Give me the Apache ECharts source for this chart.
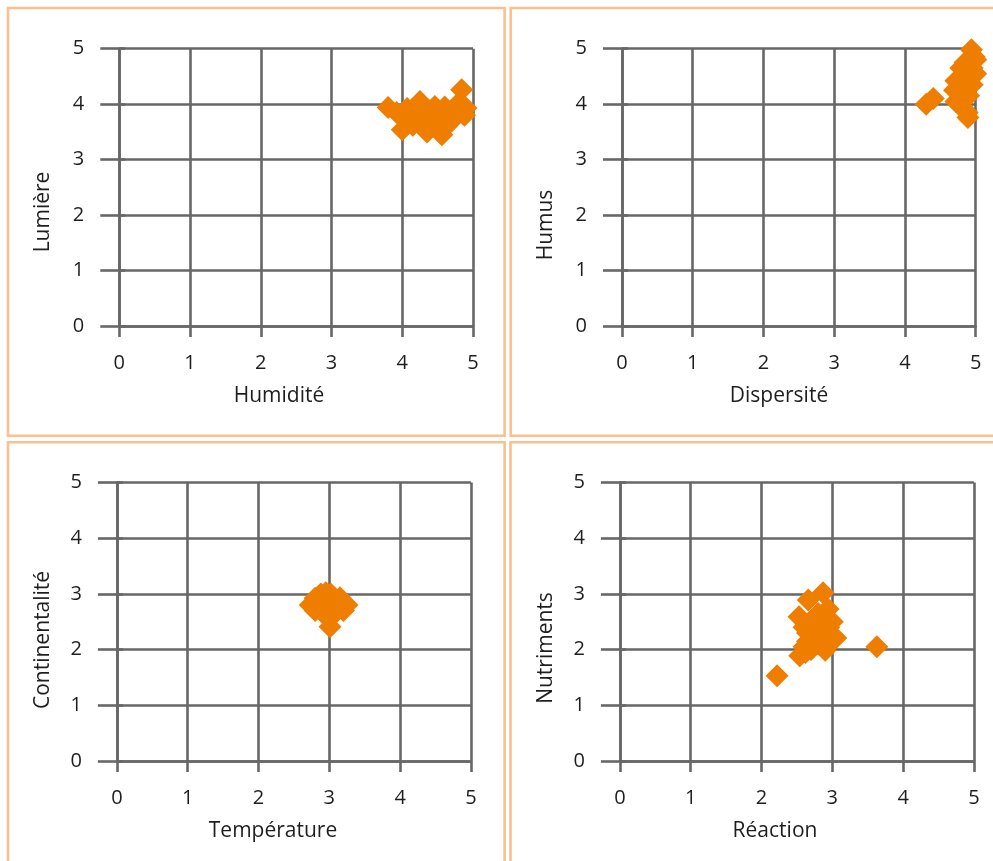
<!DOCTYPE html>
<html>
<head>
<meta charset="utf-8">
<script src="https://cdn.jsdelivr.net/npm/echarts@6/dist/echarts.min.js"></script>
<style>
  html, body { margin: 0; padding: 0; background: #fff; }
  #chart { width: 993px; height: 861px; }
</style>
</head>
<body>
<div id="chart"></div>
<script>
// Ecological indicator values of the sampled species, one panel per pair of indicators.
const ticks = [0, 1, 2, 3, 4, 5];

// Panel 1: Humidité / Lumière
const humidite = [3.80, 3.92, 4.00, 4.07, 4.12, 4.20, 4.25, 4.30, 4.35, 4.40, 4.46, 4.50, 4.55, 4.56, 4.62, 4.68, 4.72, 4.78, 4.84, 4.88, 4.90, 4.15, 4.30, 4.60, 4.10, 4.70, 4.45, 4.02];
const lumiere  = [3.94, 3.85, 3.54, 3.92, 3.70, 3.80, 4.05, 3.68, 3.50, 3.78, 3.96, 3.85, 3.70, 3.45, 3.60, 3.85, 3.75, 4.00, 4.26, 3.80, 3.93, 3.62, 3.85, 3.95, 3.80, 3.70, 3.60, 3.75];

// Panel 2: Dispersité / Humus
const dispersite = [4.94, 4.98, 4.85, 4.79, 4.95, 5.00, 4.72, 4.85, 4.95, 4.70, 4.80, 4.90, 4.72, 4.80, 4.88, 4.89, 4.85, 4.30, 4.40, 4.90, 4.78, 5.00];
const humus      = [4.98, 4.85, 4.75, 4.65, 4.65, 4.55, 4.42, 4.45, 4.35, 4.25, 4.20, 4.15, 4.05, 3.95, 3.85, 3.76, 4.55, 4.00, 4.10, 4.70, 4.30, 4.80];

// Panel 3: Température / Continentalité
const temperature    = [2.73, 2.80, 2.88, 2.95, 3.02, 3.15, 2.85, 2.95, 3.05, 3.15, 3.25, 3.20, 2.92, 3.00, 3.01, 3.10, 2.80, 2.90];
const continentalite = [2.80, 2.92, 3.00, 3.02, 3.00, 2.93, 2.75, 2.82, 2.85, 2.88, 2.80, 2.70, 2.65, 2.55, 2.41, 2.70, 2.70, 2.90];

// Panel 4: Réaction / Nutriments
const reaction   = [2.22, 3.63, 2.87, 2.66, 2.53, 2.60, 2.70, 2.80, 2.94, 2.75, 2.85, 2.90, 3.05, 2.65, 2.54, 2.70, 2.90, 2.80, 2.60, 2.95, 3.00, 2.75, 2.85, 2.65, 2.90, 2.62, 2.80];
const nutriments = [1.53, 2.05, 3.02, 2.89, 2.59, 2.40, 2.50, 2.60, 2.73, 2.30, 2.40, 2.20, 2.21, 2.15, 1.89, 2.00, 1.99, 2.10, 2.05, 2.40, 2.50, 2.45, 2.30, 2.30, 2.55, 1.95, 2.65];

const panels = [
  { xs: humidite,    ys: lumiere,        xName: 'Humidité',    yName: 'Lumière' },
  { xs: dispersite,  ys: humus,          xName: 'Dispersité',  yName: 'Humus' },
  { xs: temperature, ys: continentalite, xName: 'Température', yName: 'Continentalité' },
  { xs: reaction,    ys: nutriments,     xName: 'Réaction',    yName: 'Nutriments' }
];

// Plot areas of the four panels (2 x 2 layout)
const grids = [
  { left: 119.3, top: 48.7,  width: 353.7, height: 277.3 },
  { left: 622.0, top: 48.7,  width: 353.7, height: 277.3 },
  { left: 116.9, top: 482.5, width: 354.0, height: 278.5 },
  { left: 619.9, top: 482.5, width: 354.0, height: 278.5 }
];

// Axis title positions
const xNamePos = [[279, 396], [779, 396], [273, 831], [775, 831]];
const yNamePos = [[43, 212], [546, 225], [43, 640], [546, 648]];

const FONT = '"Open Sans", "Noto Sans", sans-serif';
const GRID_COLOR = '#676767';
const LINE_W = 2.6;
const TEXT_COLOR = '#1e1e1e';
const ORANGE = '#ef7e00';
const FRAME = '#fbbf90';

const lineStyle = { color: GRID_COLOR, width: LINE_W };

const xAxes = [], yAxes = [], series = [], graphics = [];

panels.forEach((p, i) => {
  xAxes.push({
    type: 'value', gridIndex: i, min: ticks[0], max: ticks[ticks.length - 1], interval: 1,
    axisLine: { show: true, onZero: false, lineStyle },
    axisTick: { show: true, length: 11, lineStyle },
    splitLine: { show: true, lineStyle },
    axisLabel: { fontSize: 20, color: TEXT_COLOR, fontFamily: FONT, margin: 27 }
  });
  yAxes.push({
    type: 'value', gridIndex: i, min: ticks[0], max: ticks[ticks.length - 1], interval: 1,
    axisLine: { show: true, onZero: false, lineStyle },
    axisTick: { show: true, length: 19, lineStyle },
    splitLine: { show: true, lineStyle },
    axisLabel: { fontSize: 20, color: TEXT_COLOR, fontFamily: FONT, margin: 35 }
  });
  // short stubs of the horizontal grid lines on the right side
  yAxes.push({
    type: 'value', gridIndex: i, position: 'right', min: ticks[0], max: ticks[ticks.length - 1], interval: 1,
    axisLine: { show: false },
    axisTick: { show: true, length: 6, lineStyle },
    splitLine: { show: false },
    axisLabel: { show: false }
  });
  series.push({
    type: 'scatter', xAxisIndex: i, yAxisIndex: i * 2,
    symbol: 'diamond', symbolSize: 23,
    itemStyle: { color: ORANGE, opacity: 1 },
    data: p.xs.map((x, k) => [x, p.ys[k]])
  });
  graphics.push({
    type: 'text', x: xNamePos[i][0], y: xNamePos[i][1], silent: true,
    style: { text: p.xName, fill: TEXT_COLOR, font: '21px ' + FONT, textAlign: 'center', textVerticalAlign: 'middle' }
  });
  graphics.push({
    type: 'text', x: yNamePos[i][0], y: yNamePos[i][1], rotation: Math.PI / 2, silent: true,
    style: { text: p.yName, fill: TEXT_COLOR, font: '21px ' + FONT, textAlign: 'center', textVerticalAlign: 'middle' }
  });
});

// Panel frames
const frames = [
  [8, 8, 496.6, 427.7],
  [510.7, 8, 600, 427.7],
  [8, 442.3, 496.6, 600],
  [510.5, 442.3, 600, 600]
];
frames.forEach(f => {
  graphics.push({
    type: 'rect', silent: true, z: -1,
    shape: { x: f[0], y: f[1], width: f[2], height: f[3] },
    style: { fill: null, stroke: FRAME, lineWidth: 2.6 }
  });
});

const chart = echarts.init(document.getElementById('chart'), null, { renderer: 'canvas' });
chart.setOption({
  animation: false,
  backgroundColor: '#fff',
  textStyle: { fontFamily: FONT },
  grid: grids,
  xAxis: xAxes,
  yAxis: yAxes,
  series: series,
  graphic: graphics
});
</script>
</body>
</html>
